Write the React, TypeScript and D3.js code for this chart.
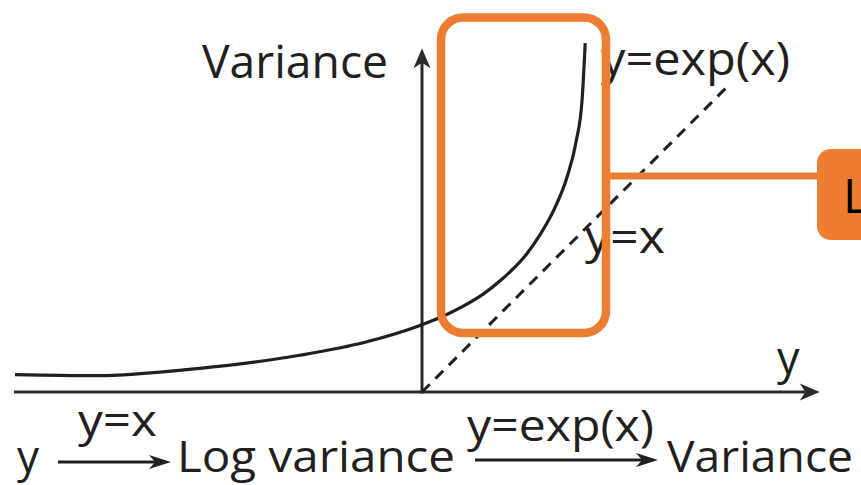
import React from "react";
import * as d3 from "d3";

// Hand-traced exponential-style curve (x, y in diagram units)
const expCurveX = [-3.99, -3.2, -2.2, -1.2, -0.55, 0.0, 0.2, 0.4, 0.6, 0.8, 1.0, 1.15, 1.3, 1.42, 1.51, 1.57, 1.6];
const expCurveY = [0.17, 0.16, 0.23, 0.36, 0.49, 0.66, 0.74, 0.84, 0.96, 1.12, 1.32, 1.53, 1.8, 2.1, 2.45, 2.87, 3.42];

// Identity reference line y = x
const identityX = [0, 2.98];
const identityY = [0, 2.98];

// Axis extents
const xAxisRange = [-4, 3.9];
const yAxisRange = [0, 3.37];

// Text labels
const axisLabelY = "Variance";
const axisLabelX = "y";
const curveLabel = "y=exp(x)";
const lineLabel = "y=x";
const flowNodes = ["y", "Log variance", "Variance"];
const flowEdges = ["y=x", "y=exp(x)"];
const calloutText = "L";

const W = 861;
const H = 485;
const INK = "#231f20";
const AXIS = "#2b2b2b";
const ORANGE = "#ed7d31";
const FONT = "'Open Sans', 'Noto Sans', sans-serif";

export default function App() {
  const x = d3.scaleLinear().domain([-4, 4]).range([14, 830]);
  const y = d3.scaleLinear().domain([0, 3.4]).range([392, 45.2]);

  const curvePts: [number, number][] = expCurveX.map((v, i) => [v, expCurveY[i]]);
  const curvePath = d3
    .line<[number, number]>()
    .x((d) => x(d[0]))
    .y((d) => y(d[1]))
    .curve(d3.curveMonotoneX)(curvePts) as string;

  const idPts: [number, number][] = identityX.map((v, i) => [v, identityY[i]]);
  const idPath = d3
    .line<[number, number]>()
    .x((d) => x(d[0]))
    .y((d) => y(d[1]))(idPts) as string;

  const ox = x(0);
  const oy = y(0);
  const xEnd = x(xAxisRange[1]);
  const yEnd = y(yAxisRange[1]);

  // concave arrowhead pointing to the right, tip at origin
  const head = (len: number, half: number) =>
    `M0,0 L${-len},${-half} L${-len * 0.72},0 L${-len},${half} Z`;

  return (
    <div style={{ position: "fixed", left: 0, top: 0 }}>
      <svg width={W} height={H} viewBox={`0 0 ${W} ${H}`} style={{ display: "block", background: "#fff" }}>
        {/* axes */}
        <line x1={x(xAxisRange[0])} y1={oy} x2={xEnd - 10} y2={oy} stroke={AXIS} strokeWidth={3.2} />
        <path d={head(20, 8.5)} transform={`translate(${xEnd},${oy})`} fill={AXIS} />
        <line x1={ox} y1={oy + 1.5} x2={ox} y2={yEnd + 10} stroke={AXIS} strokeWidth={3} />
        <path d={head(20, 8.5)} transform={`translate(${ox},${yEnd}) rotate(-90)`} fill={AXIS} />

        {/* y = x reference */}
        <path d={idPath} fill="none" stroke={INK} strokeWidth={3} strokeDasharray="11 8" />
        {/* y = exp(x) curve */}
        <path d={curvePath} fill="none" stroke={INK} strokeWidth={3.2} />

        {/* labels */}
        <g fontFamily={FONT} fill={INK} fontSize={45}>
          <text x={202} y={78} textLength={186} lengthAdjust="spacingAndGlyphs">{axisLabelY}</text>
          <text x={777} y={374}>{axisLabelX}</text>
          <text x={601} y={75} textLength={189} lengthAdjust="spacingAndGlyphs">{curveLabel}</text>
          <text x={585} y={253} textLength={80} lengthAdjust="spacingAndGlyphs">{lineLabel}</text>
        </g>
        <g fontFamily={FONT} fill={INK} fontSize={44}>
          <text x={17} y={472}>{flowNodes[0]}</text>
          <text x={177} y={472} textLength={278} lengthAdjust="spacingAndGlyphs">{flowNodes[1]}</text>
          <text x={667} y={472} textLength={186} lengthAdjust="spacingAndGlyphs">{flowNodes[2]}</text>
          <text x={78} y={436} textLength={79} lengthAdjust="spacingAndGlyphs">{flowEdges[0]}</text>
          <text x={467} y={441} textLength={187} lengthAdjust="spacingAndGlyphs">{flowEdges[1]}</text>
        </g>

        {/* flow arrows */}
        <line x1={58} y1={462} x2={158} y2={462} stroke={INK} strokeWidth={2.8} />
        <path d={head(22, 7)} transform={`translate(171,462)`} fill={INK} />
        <line x1={475} y1={460} x2={646} y2={460} stroke={INK} strokeWidth={2.8} />
        <path d={head(22, 7)} transform={`translate(658,460)`} fill={INK} />

        {/* highlight callout */}
        <rect x={441} y={17.5} width={165} height={315.5} rx={22} ry={22} fill="none" stroke={ORANGE} strokeWidth={8.5} />
        <line x1={606} y1={176} x2={822} y2={176} stroke={ORANGE} strokeWidth={7} />
        <rect x={817} y={149} width={80} height={91} rx={14} ry={14} fill={ORANGE} />
        <text x={843} y={213} fontFamily={FONT} fontSize={48} fill="#000">{calloutText}</text>
      </svg>
    </div>
  );
}
